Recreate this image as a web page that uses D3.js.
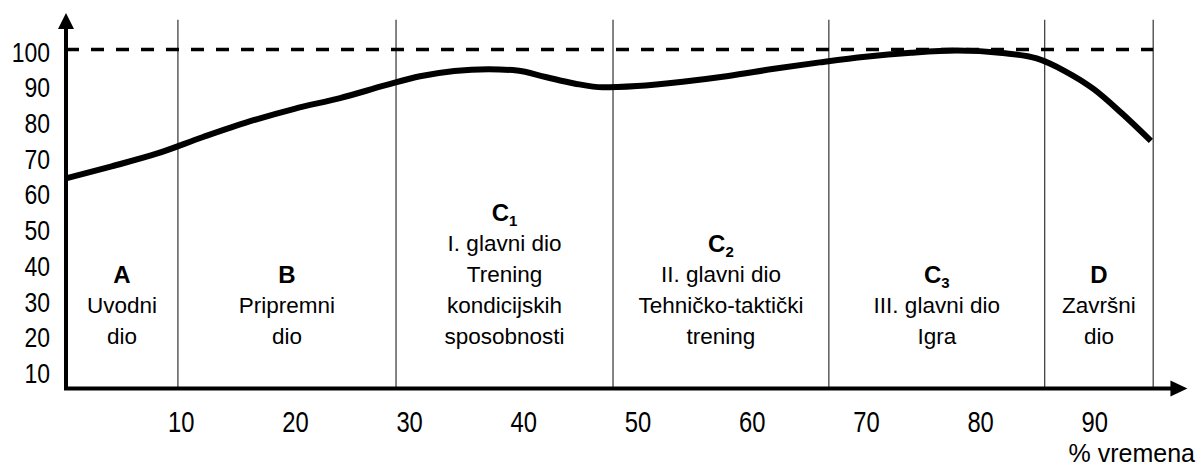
<!DOCTYPE html>
<html>
<head>
<meta charset="utf-8">
<script src="https://cdn.jsdelivr.net/npm/d3@7"></script>
<style>
  body { margin: 0; background: #fff; }
  svg { display: block; font-family: "Liberation Sans", Arial, Helvetica, sans-serif; }
</style>
</head>
<body>
<div id="chart"></div>
<script>
// =======================
// Opterećenje tijekom treninga (% vremena)
// =======================

// Curve: % of time vs. load
const timePct = [0, 4, 8, 12, 16, 20, 24, 28, 31, 34, 37, 39.5, 42, 44.5, 47, 50, 54, 58, 62, 66, 70, 74, 78, 82, 85, 87.5, 90, 92.5, 95];
const loadVal = [63.9, 67.3, 70.9, 75.5, 79.8, 83.4, 86.4, 90.0, 92.5, 94.0, 94.5, 94.1, 92.3, 90.5, 89.4, 89.8, 91.0, 92.6, 94.6, 96.4, 98.0, 99.1, 99.7, 99.0, 97.5, 93.9, 88.9, 82.0, 74.4];

// Axis ticks
const yTicks = [10, 20, 30, 40, 50, 60, 70, 80, 90, 100];
const xTicks = [10, 20, 30, 40, 50, 60, 70, 80, 90];
const refLevel = 100;

// Sections of the training
const sectionStart = [0, 9.8, 28.9, 47.9, 66.8, 85.7];
const sectionEnd = [9.8, 28.9, 47.9, 66.8, 85.7, 95.2];
const sectionLetter = ["A", "B", "C", "C", "C", "D"];
const sectionSub = ["", "", "1", "2", "3", ""];
const sectionText = [
  ["Uvodni", "dio"],
  ["Pripremni", "dio"],
  ["I. glavni dio", "Trening", "kondicijskih", "sposobnosti"],
  ["II. glavni dio", "Tehničko-taktički", "trening"],
  ["III. glavni dio", "Igra"],
  ["Završni", "dio"]
];

const width = 1203, height = 466;

const svg = d3.select("#chart")
  .append("svg")
    .attr("width", width)
    .attr("height", height);

// Scales
const x = d3.scaleLinear().domain([0, 100]).range([66, 1208]);
const y = d3.scaleLinear().domain([10, 100]).range([371, 49.5]);
const rowY = d3.scaleLinear().domain([0, 4]).range([336, 212]);

const xFloor = 5.1;     // value where the x axis sits
const yTop = 110.2;     // tip of y arrow
const lineTop = 108.3;  // top of section lines
const xTip = 98.2;      // tip of x arrow

// Section divider lines
svg.append("g")
  .selectAll("line")
  .data(sectionEnd)
  .enter()
  .append("line")
    .attr("x1", d => x(d))
    .attr("x2", d => x(d))
    .attr("y1", y(lineTop))
    .attr("y2", y(xFloor))
    .attr("stroke", "#333")
    .attr("stroke-width", 1.2);

// Dashed 100 line
svg.append("line")
  .attr("x1", x(0))
  .attr("x2", x(sectionEnd[sectionEnd.length - 1]))
  .attr("y1", y(refLevel))
  .attr("y2", y(refLevel))
  .attr("stroke", "#000")
  .attr("stroke-width", 3.5)
  .attr("stroke-dasharray", "13,12");

// Axes with arrows
svg.append("line")
  .attr("x1", x(0)).attr("x2", x(0))
  .attr("y1", y(xFloor)).attr("y2", y(yTop) + 10)
  .attr("stroke", "#000").attr("stroke-width", 4);

svg.append("path")
  .attr("d", `M${x(0)},${y(yTop)} L${x(0) - 8},${y(yTop) + 16} L${x(0) + 8},${y(yTop) + 16} Z`)
  .attr("fill", "#000");

svg.append("line")
  .attr("x1", x(0) - 2).attr("x2", x(xTip) - 10)
  .attr("y1", y(xFloor)).attr("y2", y(xFloor))
  .attr("stroke", "#000").attr("stroke-width", 3.8);

svg.append("path")
  .attr("d", `M${x(xTip)},${y(xFloor)} L${x(xTip) - 17},${y(xFloor) - 8} L${x(xTip) - 17},${y(xFloor) + 8} Z`)
  .attr("fill", "#000");

// Y tick labels (condensed look)
svg.append("g")
  .selectAll("text")
  .data(yTicks)
  .enter()
  .append("text")
    .attr("transform", d => `translate(50,${y(d) + 2}) scale(0.82,1)`)
    .attr("text-anchor", "end")
    .attr("dy", "0.36em")
    .style("font-size", "28px")
    .text(d => d);

// X tick labels
svg.append("g")
  .selectAll("text")
  .data(xTicks)
  .enter()
  .append("text")
    .attr("transform", d => `translate(${x(d) + 1},432) scale(0.82,1)`)
    .attr("text-anchor", "middle")
    .style("font-size", "29px")
    .text(d => d);

svg.append("text")
  .attr("x", 1195)
  .attr("y", 462)
  .attr("text-anchor", "end")
  .style("font-size", "25px")
  .text("% vremena");

// Section labels
const sec = svg.append("g")
  .selectAll("g")
  .data(sectionLetter.map((d, i) => i))
  .enter()
  .append("g");

sec.each(function(i) {
  const g = d3.select(this);
  const cx = x((sectionStart[i] + sectionEnd[i]) / 2);
  const lines = sectionText[i];
  const head = g.append("text")
    .attr("x", cx)
    .attr("y", rowY(lines.length))
    .attr("dy", "0.36em")
    .attr("text-anchor", "middle")
    .style("font-size", "24px")
    .style("font-weight", "bold");
  head.append("tspan").text(sectionLetter[i]);
  if (sectionSub[i]) {
    head.append("tspan")
      .attr("dy", 5)
      .style("font-size", "15px")
      .text(sectionSub[i]);
  }
  lines.forEach((t, k) => {
    g.append("text")
      .attr("x", cx)
      .attr("y", rowY(lines.length - 1 - k))
      .attr("dy", "0.36em")
      .attr("text-anchor", "middle")
      .style("font-size", "22.5px")
      .text(t);
  });
});

// Load curve
const line = d3.line()
  .x(d => x(d[0]))
  .y(d => y(d[1]))
  .curve(d3.curveMonotoneX);

svg.append("path")
  .datum(timePct.map((t, i) => [t, loadVal[i]]))
  .attr("fill", "none")
  .attr("stroke", "#000")
  .attr("stroke-width", 6)
  .attr("stroke-linejoin", "round")
  .attr("d", line);
</script>
</body>
</html>
